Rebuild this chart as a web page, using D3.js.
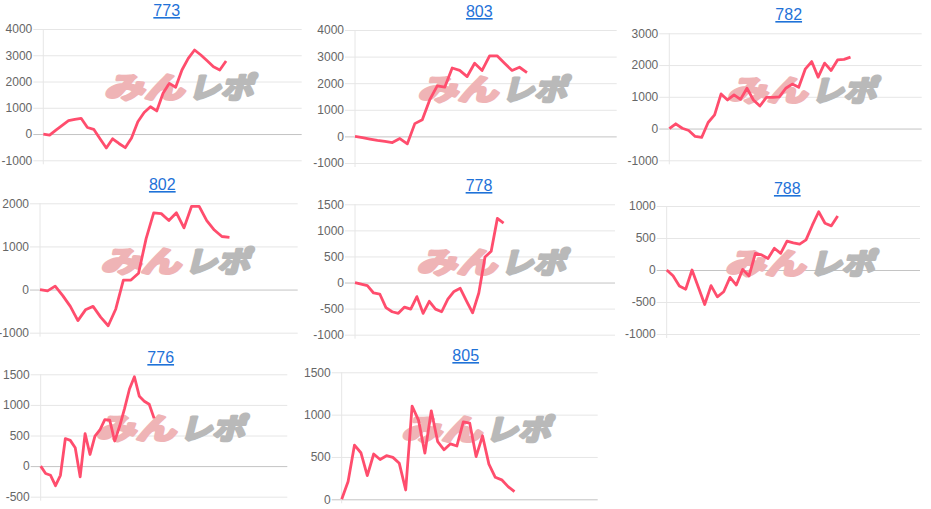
<!DOCTYPE html>
<html>
<head>
<meta charset="utf-8">
<script src="https://cdn.jsdelivr.net/npm/d3@7"></script>
<style>
  body { margin: 0; background: #fff; }
  svg { display: block; }
</style>
</head>
<body>
<div id="charts"></div>
<script>
// machine numbers (panel titles)
const machines = ["773", "803", "782", "802", "778", "788", "776", "805"];

// y axis tick labels for each panel
const ticks773 = [-1000, 0, 1000, 2000, 3000, 4000];
const ticks803 = [-1000, 0, 1000, 2000, 3000, 4000];
const ticks782 = [-1000, 0, 1000, 2000, 3000];
const ticks802 = [-1000, 0, 1000, 2000];
const ticks778 = [-1000, -500, 0, 500, 1000, 1500];
const ticks788 = [-1000, -500, 0, 500, 1000];
const ticks776 = [-500, 0, 500, 1000, 1500];
const ticks805 = [0, 500, 1000, 1500];

// number of x slots on each chart's (hidden) x axis
const slots = [41, 35, 39, 34, 42, 40, 50, 40];

// differential values
const s773 = [0, -40, 150, 330, 510, 560, 600, 250, 180, -180, -530, -180, -360, -520, -150,
              470, 820, 1040, 880, 1550, 1930, 1780, 2440, 2880, 3200, 3010, 2790, 2560, 2440, 2780];
const s803 = [0, -50, -100, -150, -190, -230, -80, -280, 480, 630, 1380, 1900, 1850, 2570,
              2480, 2250, 2750, 2480, 3030, 3030, 2750, 2480, 2600, 2400];
const s782 = [0, 150, 10, -60, -250, -280, 190, 430, 1090, 900, 1060, 920, 1270, 900, 710,
              980, 980, 1000, 1270, 1400, 1300, 1870, 2110, 1620, 2060, 1830, 2160, 2180, 2250];
const s802 = [0, -30, 80, -140, -390, -720, -470, -390, -640, -840, -450, 220, 220, 380,
              1180, 1780, 1760, 1600, 1780, 1430, 1930, 1930, 1600, 1380, 1230, 1210];
const s778 = [0, -30, -60, -200, -220, -480, -560, -590, -470, -510, -270, -590, -360, -510,
              -560, -320, -170, -110, -350, -580, -200, 490, 600, 1230, 1140];
const s788 = [0, -90, -250, -300, 0, -270, -540, -245, -420, -340, -115, -235, 10, -95, 260,
              235, 180, 340, 260, 450, 425, 405, 470, 700, 910, 730, 690, 845];
const s776 = [0, -120, -150, -320, -150, 450, 420, 300, -175, 530, 190, 490, 590, 760, 750,
              410, 650, 940, 1260, 1460, 1140, 1060, 1010, 780];
const s805 = [0, 210, 640, 550, 280, 535, 470, 515, 495, 425, 110, 1100, 935, 545, 1045, 680,
              585, 655, 630, 915, 900, 505, 750, 415, 260, 230, 150, 90];

const allTicks = [ticks773, ticks803, ticks782, ticks802, ticks778, ticks788, ticks776, ticks805];
const allSeries = [s773, s803, s782, s802, s778, s788, s776, s805];

// where each small chart sits on the page (plot area + title)
const boxes = [
  { left: 43.3, right: 301.7, top: 29,    bottom: 160.3, tx: 166.7, ty: 16 },
  { left: 355,  right: 616.7, top: 30,    bottom: 163,   tx: 479.3, ty: 17 },
  { left: 669.3, right: 921.7, top: 33.3, bottom: 160.3, tx: 788.7, ty: 20 },
  { left: 40,   right: 297.7, top: 203.3, bottom: 332.7, tx: 162.3, ty: 190 },
  { left: 355,  right: 615,   top: 204.3, bottom: 334.7, tx: 479,   ty: 191 },
  { left: 666.7, right: 920,  top: 206,   bottom: 334,   tx: 787.3, ty: 194 },
  { left: 40.7, right: 287.3, top: 374.3, bottom: 496.7, tx: 160.7, ty: 363 },
  { left: 341.7, right: 597.7, top: 372.3, bottom: 499.3, tx: 465.7, ty: 361 }
];

const font = "'Liberation Sans', Arial, Helvetica, sans-serif";

const svg = d3.select("#charts")
  .append("svg")
  .attr("width", 931)
  .attr("height", 509);

function drawPanel(i) {
  const box = boxes[i];
  const ticks = allTicks[i];
  const values = allSeries[i];
  const w = box.right - box.left;

  const x = d3.scaleLinear().domain([0, slots[i]]).range([box.left, box.right]);
  const y = d3.scaleLinear().domain(d3.extent(ticks)).range([box.bottom, box.top]);

  const g = svg.append("g");

  // title (link style)
  g.append("text")
    .attr("x", box.tx)
    .attr("y", box.ty)
    .attr("text-anchor", "middle")
    .style("font-family", font)
    .style("font-size", "16px")
    .style("fill", "#1f72d8")
    .style("text-decoration", "underline")
    .text(machines[i]);

  // y axis + gridlines (they stick out 10px to the left like tick marks)
  const ax = g.append("g")
    .attr("transform", `translate(${box.left - 10},0)`)
    .call(d3.axisLeft(y)
      .tickValues(ticks)
      .tickSizeInner(-(w + 10))
      .tickSizeOuter(0)
      .tickPadding(1)
      .tickFormat(d => String(d)));
  ax.select(".domain").remove();
  ax.selectAll(".tick line")
    .attr("stroke", d => d === 0 ? "#c4c4c4" : "#e6e6e6");
  ax.selectAll(".tick text")
    .attr("fill", "#666")
    .style("font-family", font)
    .style("font-size", "12px");

  // left border of plot
  g.append("line")
    .attr("x1", box.left).attr("x2", box.left)
    .attr("y1", box.top).attr("y2", box.bottom + 4)
    .attr("stroke", "#e6e6e6");

  // watermark logo (heavy slanted lettering)
  const cx = (box.left + box.right) / 2 + 10;
  const cy = (box.top + box.bottom) / 2 - 9;
  const wm = g.append("g")
    .attr("transform", `translate(${cx},${cy}) skewX(-14)`)
    .style("font-family", "'Noto Sans CJK JP', sans-serif")
    .style("font-weight", "bold")
    .style("font-size", "29px")
    .attr("stroke-width", 3)
    .attr("stroke-linejoin", "round");
  wm.append("text")
    .attr("x", -75).attr("y", 0)
    .attr("dominant-baseline", "central")
    .attr("textLength", 80)
    .attr("lengthAdjust", "spacingAndGlyphs")
    .attr("fill", "#efb4b6")
    .attr("stroke", "#efb4b6")
    .text("みん");
  wm.append("text")
    .attr("x", 9).attr("y", 0)
    .attr("dominant-baseline", "central")
    .attr("textLength", 65)
    .attr("lengthAdjust", "spacingAndGlyphs")
    .attr("fill", "#b9b9b9")
    .attr("stroke", "#b9b9b9")
    .text("レポ");

  // the data line
  const line = d3.line()
    .x((d, j) => x(j))
    .y(d => y(d));
  g.append("path")
    .datum(values)
    .attr("fill", "none")
    .attr("stroke", "#ff4d6d")
    .attr("stroke-width", 2.8)
    .attr("stroke-linejoin", "round")
    .attr("d", line);
}

machines.forEach((m, i) => drawPanel(i));
</script>
</body>
</html>
